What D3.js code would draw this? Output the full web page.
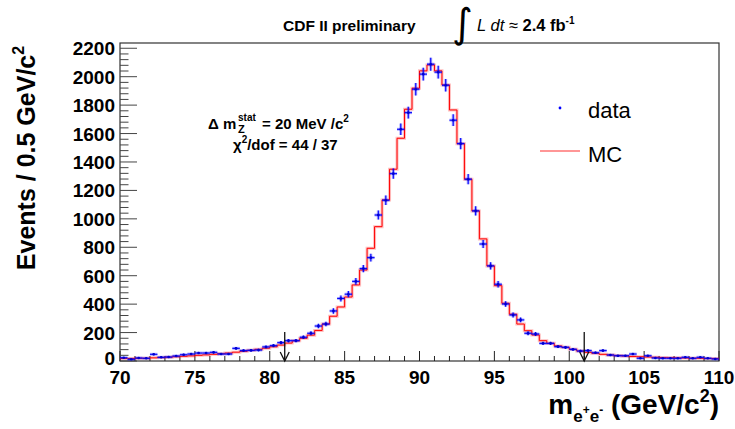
<!DOCTYPE html>
<html><head><meta charset="utf-8">
<script src="https://cdn.jsdelivr.net/npm/d3@7"></script>
<style>
body{margin:0;background:#fff;}
svg{display:block;font-family:"Liberation Sans",Arial,Helvetica,sans-serif;}
</style></head>
<body><svg id="c" width="735" height="429"></svg>
<script>
// bin centres (GeV/c^2), 0.5 GeV bins from 70 to 110
const binCenters = d3.range(80).map(i => 70.25 + i * 0.5);
const dataCounts = [23,12,21,19,47,26,28,35,44,49,56,56,61,49,49,89,73,75,77,99,
  108,129,143,143,167,195,246,260,352,440,470,560,650,727,1027,1131,1318,1630,1747,1912,
  2018,2088,2032,1940,1694,1529,1279,1056,823,669,540,401,324,289,195,190,124,124,101,96,
  82,70,73,58,73,42,37,37,49,19,37,21,19,19,19,26,19,26,19,14];
const mcCounts = [18,18,19,19,22,24,27,30,33,36,40,43,47,51,56,62,68,75,82,90,
  100,112,126,142,160,182,215,260,315,380,450,535,640,793,945,1133,1349,1567,1771,1919,
  2041,2083,2041,1942,1766,1529,1279,1056,859,669,530,406,329,260,213,183,143,124,106,96,
  82,70,61,54,47,42,38,35,32,30,28,26,24,23,22,21,20,19,18,17];
const xTicks = [70,75,80,85,90,95,100,105,110];
const yTicks = [0,200,400,600,800,1000,1200,1400,1600,1800,2000,2200];
const arrowPositions = [81,101];

const svg = d3.select("#c");
const L = 120, R = 719, T = 43, B = 361;
const x = d3.scaleLinear().domain([70,110]).range([L,R]);
const y = d3.scaleLinear().domain([0,2237]).range([B,T]);
const halfBin = 0.25;

// frame
svg.append("rect").attr("x",L).attr("y",T).attr("width",R-L).attr("height",B-T)
  .attr("fill","none").attr("stroke","#333").attr("stroke-width",1.2);

// x ticks
const gx = svg.append("g");
d3.range(70,111,1).forEach(v=>{
  const major = v%5===0;
  gx.append("line").attr("x1",x(v)).attr("x2",x(v)).attr("y1",B).attr("y2",B-(major?10:5))
    .attr("stroke","#222").attr("stroke-width",1);
});
xTicks.forEach(v=>{
  gx.append("text").attr("x",x(v)).attr("y",B+23).attr("text-anchor","middle")
    .attr("font-size",19).attr("font-weight","bold").text(v);
});
// y ticks
const gy = svg.append("g");
d3.range(0,2201,40).forEach(v=>{
  const major = v%200===0;
  gy.append("line").attr("x1",L).attr("x2",L+(major?17:8.5)).attr("y1",y(v)).attr("y2",y(v))
    .attr("stroke","#444").attr("stroke-width",1);
});
yTicks.forEach(v=>{
  gy.append("text").attr("x",L-5).attr("y",y(v)+(v===0?4:7)).attr("text-anchor","end")
    .attr("font-size",19).attr("font-weight","bold").text(v);
});

// MC step histogram
const stepPts = [];
binCenters.forEach((c,i)=>{
  stepPts.push([x(c-halfBin), y(mcCounts[i])]);
  stepPts.push([x(c+halfBin), y(mcCounts[i])]);
});
const line = d3.line();
svg.append("path").attr("d",line(stepPts)).attr("fill","none")
  .attr("stroke","#ff0000").attr("stroke-opacity",0.25).attr("stroke-width",3);
svg.append("path").attr("d",line(stepPts)).attr("fill","none")
  .attr("stroke","#ff0000").attr("stroke-width",1);

// data points with errors
const gd = svg.append("g");
binCenters.forEach((c,i)=>{
  const n = dataCounts[i], e = Math.sqrt(n);
  const px = x(c), py = y(n);
  [[3,0.3],[1.1,1]].forEach(([w,o])=>{
    gd.append("line").attr("x1",px).attr("x2",px).attr("y1",y(n+e)).attr("y2",y(Math.max(0,n-e)))
      .attr("stroke","#0000ff").attr("stroke-width",w).attr("stroke-opacity",o);
    gd.append("line").attr("x1",x(c-halfBin)).attr("x2",x(c+halfBin)).attr("y1",py).attr("y2",py)
      .attr("stroke","#0000ff").attr("stroke-width",w).attr("stroke-opacity",o);
  });
  gd.append("circle").attr("cx",px).attr("cy",py).attr("r",1.3).attr("fill","#0000cc");
});

// arrows
arrowPositions.forEach(v=>{
  const ax = x(v);
  svg.append("line").attr("x1",ax).attr("x2",ax).attr("y1",332).attr("y2",B)
    .attr("stroke","#111").attr("stroke-width",1.3);
  svg.append("path").attr("d",`M${ax-4.5},${B-9}L${ax},${B}L${ax+4.5},${B-9}`)
    .attr("fill","none").attr("stroke","#111").attr("stroke-width",1.3);
});

// axis titles
const yt = svg.append("text").attr("transform","translate(35,158) rotate(-90)")
  .attr("text-anchor","middle").attr("font-size",25).attr("font-weight","bold");
yt.append("tspan").text("Events / 0.5 GeV/c");
yt.append("tspan").attr("font-size",16).attr("dy",-11).text("2");

const xt = svg.append("text").attr("x",719).attr("y",414).attr("text-anchor","end")
  .attr("font-size",28).attr("font-weight","bold");
xt.append("tspan").text("m");
xt.append("tspan").attr("font-size",17).attr("dy",8).text("e");
xt.append("tspan").attr("font-size",12).attr("dy",-8).text("+");
xt.append("tspan").attr("font-size",17).attr("dy",8).text("e");
xt.append("tspan").attr("font-size",12).attr("dy",-8).text("-");
xt.append("tspan").attr("dy",0).text(" (GeV/c");
xt.append("tspan").attr("font-size",18).attr("dy",-12).text("2");
xt.append("tspan").attr("dy",12).text(")");

// header
svg.append("text").attr("x",283).attr("y",31).attr("font-size",15.5).attr("font-weight","bold")
  .text("CDF II preliminary");
svg.append("text").attr("x",452).attr("y",37).attr("font-size",40)
  .attr("font-family","'DejaVu Sans',sans-serif").attr("font-weight","normal").text("\u222B");
const lum = svg.append("text").attr("x",477).attr("y",31).attr("font-size",16.5);
lum.append("tspan").attr("font-style","italic").text("L dt");
lum.append("tspan").text(" \u2248 ");
lum.append("tspan").attr("font-weight","bold").text("2.4 fb");
lum.append("tspan").attr("font-weight","bold").attr("font-size",10).attr("dy",-7).text("-1");

// annotation
svg.append("text").attr("x",208).attr("y",129).attr("font-size",15).attr("font-weight","bold").text("\u0394 m");
svg.append("text").attr("x",238).attr("y",121).attr("font-size",10).attr("font-weight","bold").text("stat");
svg.append("text").attr("x",238).attr("y",133).attr("font-size",11).attr("font-weight","bold").text("Z");
const a1 = svg.append("text").attr("x",262).attr("y",129).attr("font-size",15).attr("font-weight","bold");
a1.append("tspan").text("= 20 MeV /c");
a1.append("tspan").attr("font-size",10).attr("dy",-7).text("2");
const a2 = svg.append("text").attr("x",233).attr("y",150).attr("font-size",15).attr("font-weight","bold");
a2.append("tspan").text("\u03C7");
a2.append("tspan").attr("font-size",10).attr("dy",-7).text("2");
a2.append("tspan").attr("dy",7).text("/dof = 44 / 37");

// legend
svg.append("circle").attr("cx",560).attr("cy",108).attr("r",1.4).attr("fill","#0000ff");
svg.append("text").attr("x",588).attr("y",118).attr("font-size",22).text("data");
svg.append("line").attr("x1",540).attr("x2",580).attr("y1",151).attr("y2",151)
  .attr("stroke","#ff0000").attr("stroke-opacity",0.55).attr("stroke-width",1.5);
svg.append("text").attr("x",588).attr("y",162).attr("font-size",22).text("MC");
</script></body></html>
